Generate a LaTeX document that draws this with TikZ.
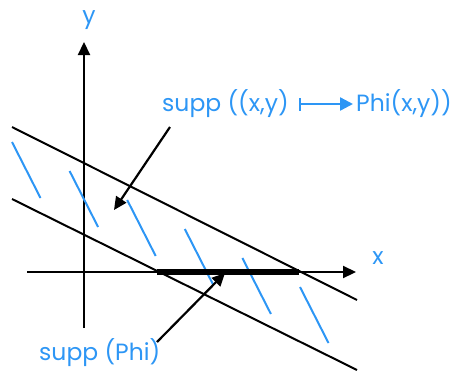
\documentclass[tikz,border=0pt]{standalone}
\usepackage{fontspec}
\setmainfont{Poppins}
\usepackage{tikz}
\usetikzlibrary{arrows.meta,positioning}
\definecolor{suppblue}{RGB}{45,150,245}

\begin{document}
\begin{tikzpicture}[x=1pt,y=-1pt,>={Triangle[length=13pt,width=12pt]},
  bound/.style={line width=2pt},
  hatch/.style={suppblue,line width=2pt},
  lbl/.style={suppblue,inner sep=0pt,font=\fontsize{23.5}{23.5}\selectfont}]
  \useasboundingbox (0,0) rectangle (458,370);
  % axes
  \coordinate (xs) at (27,272);  \coordinate (xe) at (356,272);
  \coordinate (ys) at (84,328);  \coordinate (ye) at (84,42);
  \draw[->,line width=2.2pt] (xs) -- (xe);
  \draw[->,line width=2.2pt] (ys) -- (ye);
  \node[lbl] (xlab) at (378,258) {x};
  \node[lbl] (ylab) at (89,20) {y};
  % the strip bounded by two parallel lines
  \coordinate (u1) at (12,127);  \coordinate (u2) at (357,300);
  \coordinate (l1) at (12,199);  \coordinate (l2) at (357,370);
  \draw[bound] (u1) -- (u2);
  \draw[bound] (l1) -- (l2);
  % hatching inside the strip
  \foreach \i in {0,...,5}
    \draw[hatch] ({12+57.6*\i},{142+29*\i}) -- ++(28.5,56);
  % support on the x axis
  \coordinate (sa) at (157,272); \coordinate (sb) at (299,272);
  \draw[line width=5.5pt] (sa) -- (sb);
  % labels
  \node[lbl,anchor=west] (strip) at (162,104) {supp ((x,y)};
  \node[lbl,anchor=west] (phixy) at (356,104) {Phi(x,y))};
  \draw[suppblue,line width=2.4pt,{Bar[width=13pt]}-{Triangle[length=13pt,width=13pt]}]
    (299,104) -- ([xshift=-3pt]phixy.west);
  \node[lbl,anchor=west] (phi) at (39,353) {supp (Phi)};
  \coordinate (sp) at (114,210); \coordinate (pp) at (225,273);
  \draw[->,line width=2.2pt] (170,127) -- (sp);
  \draw[->,line width=2.2pt] (157,342) -- (pp);
\end{tikzpicture}
\end{document}
